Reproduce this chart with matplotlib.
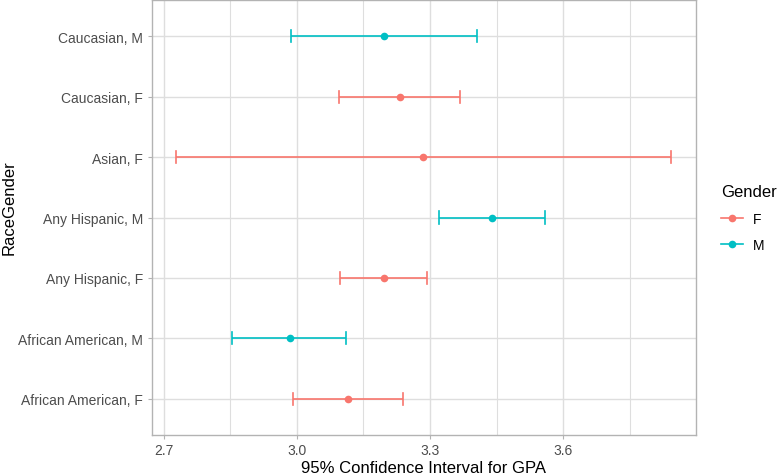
import matplotlib
matplotlib.use("Agg")
import matplotlib.pyplot as plt
from matplotlib.lines import Line2D
import numpy as np

plt.rcParams['font.family'] = ['Liberation Sans', 'DejaVu Sans']

categories = ["African American, F", "African American, M", "Any Hispanic, F",
              "Any Hispanic, M", "Asian, F", "Caucasian, F", "Caucasian, M"]
gender = ["F", "M", "F", "M", "F", "F", "M"]
mean_gpa = [3.116, 2.985, 3.196, 3.439, 3.284, 3.232, 3.196]
lower = [2.992, 2.855, 3.098, 3.321, 2.729, 3.095, 2.988]
upper = [3.240, 3.111, 3.292, 3.559, 3.843, 3.367, 3.406]
x_ticks = [2.7, 3.0, 3.3, 3.6]
x_minor = [2.85, 3.15, 3.45, 3.75]

colors = {"F": "#F8766D", "M": "#00BFC4"}

W, H = 778, 477
fig = plt.figure(figsize=(W/100, H/100), dpi=100)
ax = fig.add_axes([151.7/W, 41/H, (696-151.7)/W, 476/H - 41/H])

ypos = np.arange(1, len(categories) + 1)
for y, g, m, lo, hi in zip(ypos, gender, mean_gpa, lower, upper):
    c = colors[g]
    ax.plot([lo, hi], [y, y], color=c, lw=1.2, zorder=3, solid_capstyle='butt')
    for xv in (lo, hi):
        ax.plot([xv, xv], [y - 0.1, y + 0.1], color=c, lw=1.2, zorder=3)
    ax.plot([m], [y], 'o', color=c, ms=5.5, zorder=4, mec='none')

rng = max(upper) - min(lower)
ax.set_xlim(min(lower) - 0.05*rng, max(upper) + 0.05*rng)
ax.set_ylim(0.4, len(categories) + 0.6)
ax.set_yticks(ypos)
ax.set_yticklabels(categories)
ax.set_xticks(x_ticks)
ax.set_xticklabels([f"{v:.1f}" for v in x_ticks])
ax.set_xticks(x_minor, minor=True)

ax.grid(True, which='major', color='#DEDEDE', lw=1.0, zorder=0)
ax.grid(True, which='minor', axis='x', color='#DEDEDE', lw=0.8, zorder=0)
ax.set_axisbelow(True)
for s in ax.spines.values():
    s.set_color('#B3B3B3')
    s.set_linewidth(1.0)
ax.tick_params(axis='both', which='major', colors='#B3B3B3', labelcolor='#4D4D4D',
               labelsize=10, length=3, width=0.8, pad=3)
ax.tick_params(axis='x', which='minor', length=0)

ax.set_xlabel("95% Confidence Interval for GPA", fontsize=12, color='black', labelpad=2)
fig.text(9/W, 1 - 208/H, "RaceGender", rotation=90, fontsize=12, color='black',
         ha='center', va='center')

handles = [Line2D([0], [0], color=colors[g], lw=1.2, marker='o', ms=5.5, mec='none')
           for g in ["F", "M"]]
leg = fig.legend(handles, ["F", "M"], title="Gender", loc='upper left',
                 bbox_to_anchor=(721/W, 1 - 185/H), frameon=False, borderpad=0,
                 borderaxespad=0, fontsize=10, title_fontsize=12, handlelength=1.6,
                 handletextpad=0.7, labelspacing=0.9, alignment='left')
leg._legend_box.sep = 9

fig.savefig("out.png", dpi=100)
